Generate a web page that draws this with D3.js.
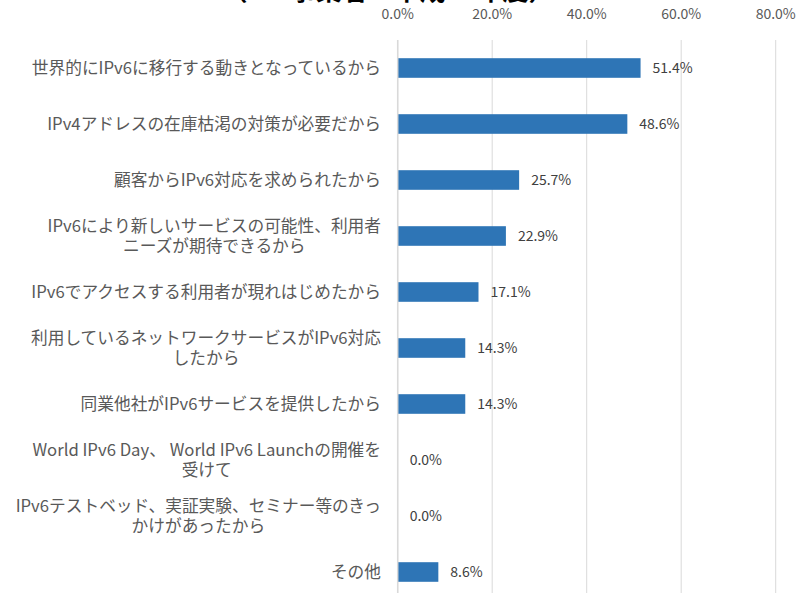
<!DOCTYPE html>
<html>
<head>
<meta charset="utf-8">
<script src="https://cdn.jsdelivr.net/npm/d3@7"></script>
<style>
  body { margin: 0; background: #fff; }
  svg { display: block; }
  text { font-family: "Noto Sans CJK JP", "Noto Sans", sans-serif; }
</style>
</head>
<body>
<script>
var w = 801;
var h = 593;

// categories, one array per wrapped line
var categories = [
  ["世界的にIPv6に移行する動きとなっているから"],
  ["IPv4アドレスの在庫枯渇の対策が必要だから"],
  ["顧客からIPv6対応を求められたから"],
  ["IPv6により新しいサービスの可能性、利用者", "ニーズが期待できるから"],
  ["IPv6でアクセスする利用者が現れはじめたから"],
  ["利用しているネットワークサービスがIPv6対応", "したから"],
  ["同業他社がIPv6サービスを提供したから"],
  ["World IPv6 Day、 World IPv6 Launchの開催を", "受けて"],
  ["IPv6テストベッド、実証実験、セミナー等のきっ", "かけがあったから"],
  ["その他"]
];
var values = [51.4, 48.6, 25.7, 22.9, 17.1, 14.3, 14.3, 0.0, 0.0, 8.6];
var ticks = [0, 20, 40, 60, 80];
var title = "（ISP事業者：平成26年度）";

var data = values.map((v, i) => ({ key: i, lines: categories[i], value: v }));

var x = d3.scaleLinear().domain([0, 80]).range([397.7, 775.7]);
var y = d3.scaleBand()
          .domain(data.map(d => d.key))
          .range([40, 600])
          .paddingInner(0.65)
          .paddingOuter(0.325);

var svg = d3.select("body")
            .append("svg")
            .attr("width", w)
            .attr("height", h);

// title, mostly cut off at the top
svg.append("text")
   .attr("x", 388)
   .attr("y", 0)
   .attr("text-anchor", "middle")
   .attr("font-size", 26)
   .attr("font-weight", "bold")
   .attr("fill", "#000")
   .text(title);

// gridlines
svg.selectAll("line.grid")
   .data(ticks)
   .enter()
   .append("line")
   .attr("class", "grid")
   .attr("x1", d => x(d))
   .attr("x2", d => x(d))
   .attr("y1", 40)
   .attr("y2", 600)
   .attr("stroke", "#d9d9d9")
   .attr("stroke-width", 1);

// top axis labels
svg.selectAll("text.tick")
   .data(ticks)
   .enter()
   .append("text")
   .attr("class", "tick")
   .attr("x", d => x(d))
   .attr("y", 19)
   .attr("text-anchor", "middle")
   .attr("font-size", 14)
   .attr("fill", "#595959")
   .text(d => d.toFixed(1) + "%");

// bars
svg.selectAll("rect.bar")
   .data(data)
   .enter()
   .append("rect")
   .attr("class", "bar")
   .attr("x", x(0))
   .attr("y", d => y(d.key))
   .attr("width", d => x(d.value) - x(0))
   .attr("height", y.bandwidth())
   .attr("fill", "#2e75b6");

// category axis line
svg.append("line")
   .attr("x1", x(0))
   .attr("x2", x(0))
   .attr("y1", 40)
   .attr("y2", 600)
   .attr("stroke", "#d9d9d9")
   .attr("stroke-width", 1.5);

// data labels
svg.selectAll("text.val")
   .data(data)
   .enter()
   .append("text")
   .attr("class", "val")
   .attr("x", d => x(d.value) + 12)
   .attr("y", d => y(d.key) + y.bandwidth() / 2)
   .attr("dy", "0.35em")
   .attr("font-size", 14)
   .attr("fill", "#404040")
   .text(d => d.value.toFixed(1) + "%");

// category labels: block right aligned, lines centred inside the block
var labelRight = 381;
var lineH = 20;
var groups = svg.selectAll("g.cat")
   .data(data)
   .enter()
   .append("g")
   .attr("class", "cat");

groups.each(function(d) {
  var g = d3.select(this);
  var cy = y(d.key) + y.bandwidth() / 2;
  var n = d.lines.length;
  var texts = g.selectAll("text")
     .data(d.lines)
     .enter()
     .append("text")
     .attr("y", (l, i) => cy + (i - (n - 1) / 2) * lineH)
     .attr("dy", "0.35em")
     .attr("font-size", 16.7)
     .attr("fill", "#595959")
     .text(l => l);
  var widths = [];
  texts.each(function() { widths.push(this.getComputedTextLength()); });
  var maxW = d3.max(widths);
  texts.attr("text-anchor", "middle")
       .attr("x", labelRight - maxW / 2);
});
</script>
</body>
</html>
